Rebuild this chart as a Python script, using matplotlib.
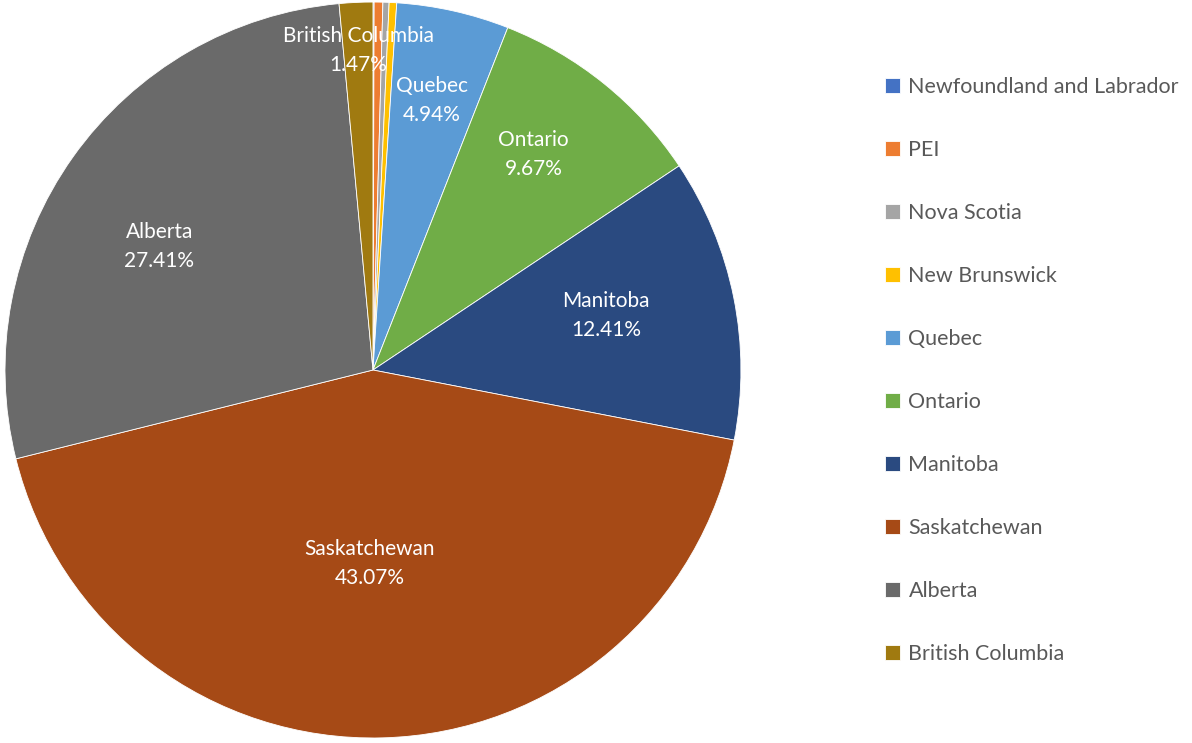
import matplotlib.pyplot as plt
import numpy as np

provinces = ["Newfoundland and Labrador", "PEI", "Nova Scotia", "New Brunswick",
             "Quebec", "Ontario", "Manitoba", "Saskatchewan", "Alberta",
             "British Columbia"]
shares = [0.05, 0.38, 0.27, 0.33, 4.94, 9.67, 12.41, 43.07, 27.41, 1.47]
show_label = [False, False, False, False, True, True, True, True, True, True]

colors = ["#4472C4", "#ED7D31", "#A5A5A5", "#FFC000", "#5B9BD5", "#70AD47",
          "#2A4A80", "#A64A16", "#6A6A6A", "#A07A10"]
# label placement: fraction of radius and angle nudge (deg) from wedge middle
label_r = [0.7, 0.7, 0.7, 0.7, 0.75, 0.73, 0.65, 0.525, 0.67, 0.87]
label_nudge = [0, 0, 0, 0, 0.3, 2.2, 1.9, -2.4, 5.4, 0]

plt.rcParams['font.family'] = ['Lato', 'DejaVu Sans']

fig = plt.figure(figsize=(11.92, 7.43), dpi=100)
ax = fig.add_axes([0.0042, 0.0067, 0.6174, 0.9906])

wedges, _ = ax.pie(shares, colors=colors, startangle=90, counterclock=False,
                   wedgeprops=dict(edgecolor="white", linewidth=0.6))
ax.set_xlim(-1, 1)
ax.set_ylim(-1, 1)
ax.set_aspect("equal")

total = sum(shares)
for w, name, val, show, r, nudge in zip(wedges, provinces, shares, show_label,
                                        label_r, label_nudge):
    if not show:
        continue
    ang = np.deg2rad((w.theta1 + w.theta2) / 2 + nudge)
    x, y = r * np.cos(ang), r * np.sin(ang)
    ax.text(x, y, f"{name}\n{val / total * 100:.2f}%", ha="center", va="center",
            color="white", fontsize=15, linespacing=1.55)

fig.legend(wedges, provinces, loc="upper left", bbox_to_anchor=(0.726, 0.923),
           frameon=False, fontsize=15.5, labelspacing=2.0, handlelength=0.7,
           handleheight=0.7, handletextpad=0.4, labelcolor="#595959")

fig.savefig("out.png", dpi=100)
